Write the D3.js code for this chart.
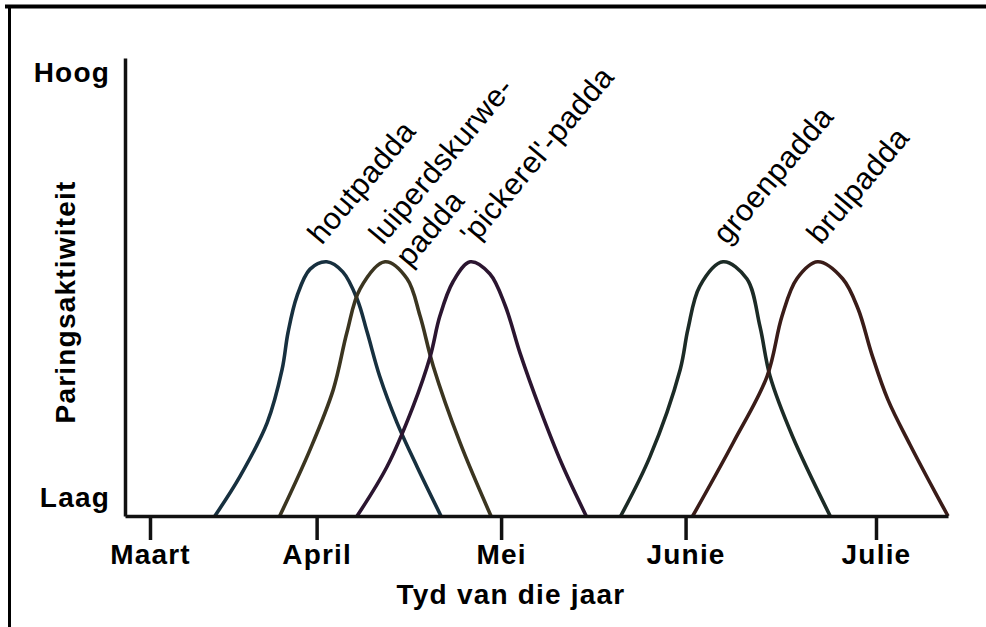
<!DOCTYPE html>
<html>
<head>
<meta charset="utf-8">
<script src="https://cdn.jsdelivr.net/npm/d3@7"></script>
<style>
  html, body { margin: 0; padding: 0; background: #fff; }
  svg { display: block; }
  text { font-family: "Liberation Sans", Arial, sans-serif; fill: #000; }
</style>
</head>
<body>
<svg id="chart" width="986" height="627"></svg>
<script>
// ---- data ----
const months = ["Maart", "April", "Mei", "Junie", "Julie"];
const monthDays = [0, 28, 59, 90, 122]; // days after 1 March where the month ticks sit

const yLabels = ["Laag", "Hoog"];
const yLabelValues = [4, 97];

const speciesNames = ["houtpadda", "luiperdskurwe-padda", "'pickerel'-padda", "groenpadda", "brulpadda"];
const speciesLabelLines = [["houtpadda"], ["luiperdskurwe-", "padda"], ["'pickerel'-padda"], ["groenpadda"], ["brulpadda"]];

// [day, activity (0-100)]
const houtpadda = [[10.9,0],[15.1,8.6],[19.7,20.4],[22.2,32.0],[23.2,40.1],[24.7,48.0],[26.9,53.9],[29.7,55.5],[32.4,53.3],[34.8,47.4],[36.5,40.1],[38.6,30.5],[41.5,20.4],[44.9,10.7],[48.9,0]];
const luiperdskurwePadda = [[21.8,0],[26.9,14.5],[30.8,27.6],[33.1,40.1],[35.3,49.6],[39.5,55.5],[43.2,51.8],[45.4,43.6],[47.6,32.7],[52.1,16.0],[57.3,0]];
const pickerelPadda = [[34.8,0],[39.8,10.7],[44.2,23.9],[47.1,34.9],[48.7,43.6],[50.9,51.1],[53.8,55.5],[57.1,52.9],[59.7,45.9],[62.2,35.5],[65.5,23.5],[69.2,11.4],[73.3,0]];
const groenpadda = [[79.1,0],[84.0,12.9],[89.1,32.0],[90.4,40.8],[92.4,50.2],[96.3,55.5],[100.3,51.8],[102.5,41.4],[104.2,30.5],[108.0,17.3],[114.3,0]];
const brulpadda = [[91.2,0],[98.0,16.0],[103.7,30.5],[106.2,43.6],[108.7,51.8],[112.2,55.5],[116.4,51.8],[119.0,45.2],[121.3,35.3],[124.0,25.4],[127.7,15.6],[131.1,7.2],[134.1,0]];

const seriesValues = [houtpadda, luiperdskurwePadda, pickerelPadda, groenpadda, brulpadda];

// ---- styles / layout ----
const colors = ["#17303f", "#3b3520", "#2b1530", "#1c2b26", "#3a1c18"];
const labelDx = [-5, -2, 4, 4, 3];

(function () {
  const svg = d3.select("#chart");
  const W = 986, H = 627;
  const pLeft = 125, pRight = 948, pTop = 58, pBottom = 516;

  svg.append("rect").attr("width", W).attr("height", H).attr("fill", "#fff");

  // frame (top and left edges)
  svg.append("line").attr("x1", 5).attr("x2", W).attr("y1", 6.5).attr("y2", 6.5)
    .attr("stroke", "#000").attr("stroke-width", 4);
  svg.append("line").attr("x1", 9.5).attr("x2", 9.5).attr("y1", 5).attr("y2", H)
    .attr("stroke", "#000").attr("stroke-width", 3);

  const x = d3.scaleLinear().domain([-4.2, 134.1]).range([pLeft, pRight]);
  const y = d3.scaleLinear().domain([0, 100]).range([pBottom, pTop]);

  // curves
  const line = d3.line()
    .x(d => x(d[0]))
    .y(d => y(d[1]))
    .curve(d3.curveCatmullRom.alpha(0.5));

  svg.append("g").selectAll("path")
    .data(seriesValues)
    .join("path")
    .attr("d", line)
    .attr("fill", "none")
    .attr("stroke", (d, i) => colors[i])
    .attr("stroke-width", 3.6)
    .attr("stroke-linejoin", "round");

  // axes
  const xAxis = d3.axisBottom(x)
    .tickValues(monthDays)
    .tickFormat((d, i) => months[i])
    .tickSizeInner(24)
    .tickSizeOuter(0)
    .tickPadding(4);

  const gx = svg.append("g").attr("transform", `translate(0,${pBottom})`).call(xAxis);
  gx.attr("font-family", "Liberation Sans, Arial, sans-serif");
  gx.select(".domain").attr("stroke", "#111").attr("stroke-width", 3.5);
  gx.selectAll(".tick line").attr("stroke", "#111").attr("stroke-width", 3.5);
  gx.selectAll(".tick text")
    .attr("font-size", 28).attr("font-weight", "bold")
    .attr("letter-spacing", 1.2).attr("fill", "#000");

  const yAxis = d3.axisLeft(y).tickValues([]).tickSizeOuter(0);
  const gy = svg.append("g").attr("transform", `translate(${pLeft},0)`).call(yAxis);
  gy.select(".domain").attr("stroke", "#111").attr("stroke-width", 3.5);

  // y labels
  svg.append("g").selectAll("text")
    .data(yLabels)
    .join("text")
    .attr("x", 110)
    .attr("y", (d, i) => y(yLabelValues[i]))
    .attr("dy", "0.35em")
    .attr("text-anchor", "end")
    .attr("font-size", 28).attr("font-weight", "bold")
    .attr("letter-spacing", 1.2)
    .text(d => d);

  // axis titles
  svg.append("text")
    .attr("x", 511).attr("y", 604)
    .attr("text-anchor", "middle")
    .attr("font-size", 28).attr("font-weight", "bold")
    .attr("letter-spacing", 1.2)
    .text("Tyd van die jaar");

  svg.append("text")
    .attr("transform", `translate(75,${(pTop + pBottom) / 2 + 15}) rotate(-90)`)
    .attr("text-anchor", "middle")
    .attr("font-size", 28).attr("font-weight", "bold")
    .attr("letter-spacing", 1.2)
    .text("Paringsaktiwiteit");

  // species labels
  const peaks = seriesValues.map(s => s.reduce((a, b) => (b[1] > a[1] ? b : a)));
  const labels = svg.append("g").selectAll("text")
    .data(speciesLabelLines)
    .join("text")
    .attr("transform", (d, i) => `translate(${x(peaks[i][0]) + labelDx[i]},${y(peaks[i][1]) - 16}) rotate(-50)`)
    .attr("font-size", 30.5)
    .attr("letter-spacing", 0.5);

  labels.selectAll("tspan")
    .data(d => d)
    .join("tspan")
    .attr("x", 0)
    .attr("dy", (d, i) => (i === 0 ? 0 : 35))
    .text(d => d);
})();
</script>
</body>
</html>
